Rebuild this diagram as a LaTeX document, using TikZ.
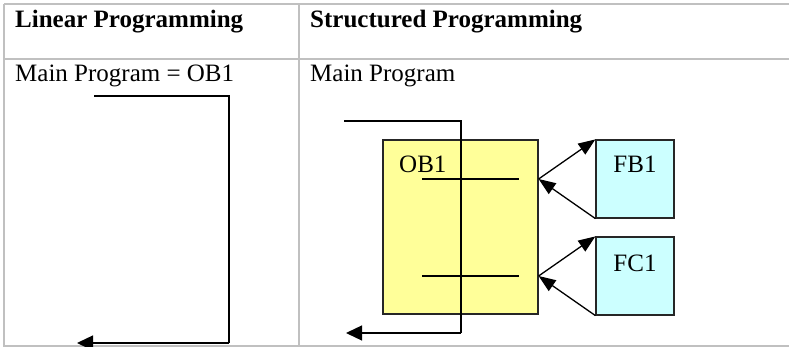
\documentclass[tikz,border=0pt]{standalone}
\usepackage{fontspec}
\setmainfont{Liberation Serif}
\usepackage{tikz}
\usetikzlibrary{arrows.meta, positioning, backgrounds}
\definecolor{tablegray}{HTML}{C0C0C0}
\definecolor{obyellow}{HTML}{FFFF99}
\definecolor{fcyan}{HTML}{CCFFFF}
\tikzset{
  rule/.style={draw=tablegray, line width=2pt},
  headtxt/.style={anchor=base west, inner sep=0pt,
                  font=\fontsize{25}{30}\selectfont\bfseries},
  celltxt/.style={anchor=base west, inner sep=0pt,
                  font=\fontsize{25}{30}\selectfont},
  boxtxt/.style={anchor=base, inner sep=0pt,
                 font=\fontsize{25}{30}\selectfont},
  obBox/.style={rectangle, draw=black!85, fill=obyellow, line width=1.2pt,
                inner sep=0pt, minimum width=155pt, minimum height=174pt},
  fBox/.style={rectangle, draw=black!85, fill=fcyan, line width=1.2pt,
               inner sep=0pt, minimum width=78pt, minimum height=78pt},
  flow/.style={draw=black, line width=1.3pt},
  flowend/.style={flow, -{Triangle[length=16pt, width=15pt]}},
  call/.style={flow, -{Triangle[length=17pt, width=13pt]}},
}

\begin{document}
\begin{tikzpicture}[x=1pt, y=-1pt]
    \useasboundingbox (0,0) rectangle (789,347);

    %% table rules
    \draw[rule] (4,4) -- (789,4);
    \draw[rule] (4,59) -- (789,59);
    \draw[rule] (4,345.5) -- (789,345.5);
    \draw[rule] (4,4) -- (4,346.5);
    \draw[rule] (299,4) -- (299,346.5);

    %% headings
    \node[headtxt] (hlin) at (15,28) {Linear Programming};
    \node[headtxt] (hstr) at (310,28) {Structured Programming};
    \node[celltxt] (mlin) at (15,82) {Main Program = OB1};
    \node[celltxt] (mstr) at (310,82) {Main Program};

    %% linear program flow
    \coordinate (l1) at (94,96);
    \coordinate (l2) at (229,96);
    \coordinate (l3) at (229,343);
    \coordinate (l4) at (77,343);
    \draw[flow] (l1) -- (l2) -- (l3);
    \draw[flowend] (l3) -- (l4);

    %% blocks
    \node[obBox] (ob1) at (460.5,227) {};
    \node[fBox] (fb1) at (635,179) {};
    \node[fBox] (fc1) at (635,276) {};
    \node[boxtxt, anchor=base west] (ob1t) at (399,173) {OB1};
    \node[boxtxt] (fb1t) at (635,173) {FB1};
    \node[boxtxt] (fc1t) at (635,272) {FC1};

    %% structured program flow
    \coordinate (s1) at (344,121);
    \coordinate (s2) at (461,121);
    \coordinate (s3) at (461,333);
    \coordinate (s4) at (346,333);
    \draw[flow] (s1) -- (s2) -- (s3);
    \draw[flowend] (s3) -- (s4);
    \coordinate (c1a) at (422,179);
    \coordinate (c1b) at (519,179);
    \coordinate (c2a) at (422,276);
    \coordinate (c2b) at (519,276);
    \draw[flow] (c1a) -- (c1b) (c2a) -- (c2b);

    %% calls and returns
    \coordinate (fbcall) at (ob1.east |- fb1.east);
    \coordinate (fccall) at (ob1.east |- fc1.east);
    \draw[call] (fbcall) -- (fb1.north west);
    \draw[call] (fb1.south west) -- (fbcall);
    \draw[call] (fccall) -- (fc1.north west);
    \draw[call] (fc1.south west) -- (fccall);
\end{tikzpicture}
\end{document}
